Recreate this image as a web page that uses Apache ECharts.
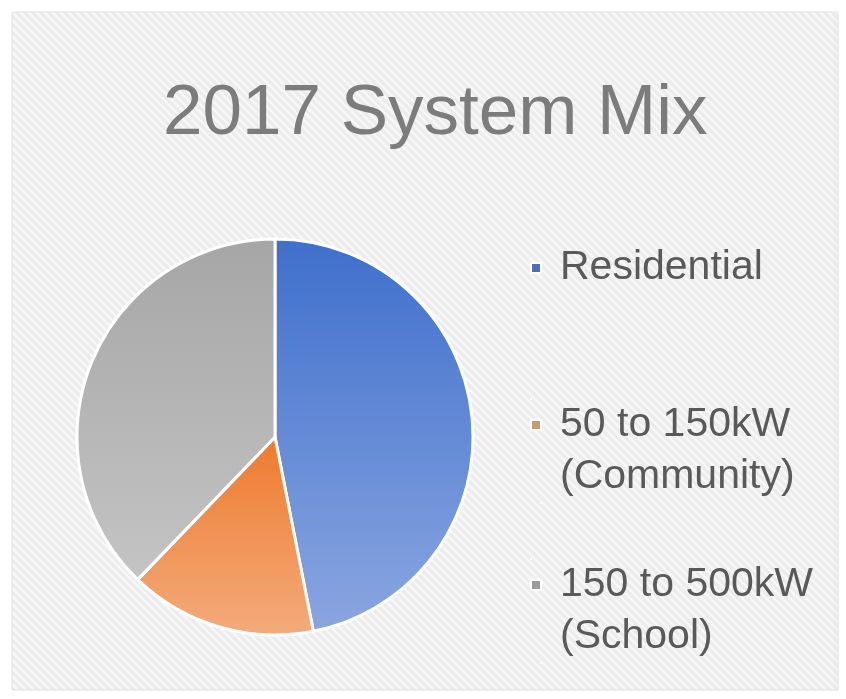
<!DOCTYPE html>
<html>
<head>
<meta charset="utf-8">
<script src="https://cdn.jsdelivr.net/npm/echarts@6/dist/echarts.min.js"></script>
<style>
html,body{margin:0;padding:0;background:#ffffff;}
#chart{width:846px;height:699px;}
</style>
</head>
<body>
<div id="chart"></div>
<script>
var titleText = '2017 System Mix';
var categories = ['Residential', '50 to 150kW\n(Community)', '150 to 500kW\n(School)'];
var values = [46.9, 15.3, 37.8];
var topColors = ['#3f6fcc', '#ee7a2e', '#a6a6a6'];
var bottomColors = ['#8aa6e0', '#f3ab7c', '#c4c4c4'];
var legendIcons = ['#4a6fb8', '#c89a6e', '#9c9c9c'];

// hatch pattern for the panel
var pat = document.createElement('canvas');
pat.width = 8; pat.height = 8;
var pc = pat.getContext('2d');
pc.fillStyle = '#ececec';
pc.fillRect(0, 0, 8, 8);
pc.strokeStyle = '#f8f8f8';
pc.lineWidth = 2;
pc.beginPath();
pc.moveTo(-2, -2); pc.lineTo(10, 10);
pc.moveTo(-6, 2); pc.lineTo(6, 14);
pc.moveTo(2, -6); pc.lineTo(14, 6);
pc.stroke();

var chart = echarts.init(document.getElementById('chart'), null, {renderer: 'canvas'});

var pieData = categories.map(function (c, i) {
  return {
    name: c,
    value: values[i],
    itemStyle: {
      color: {
        type: 'linear', x: 0, y: 0, x2: 0, y2: 1,
        colorStops: [{offset: 0, color: topColors[i]}, {offset: 1, color: bottomColors[i]}]
      }
    }
  };
});

var LH = 52;
var legendTops = [268 - LH / 2, 424 - LH / 2, 584 - LH / 2];
// icon for two-line entries: the square sits beside the first line
var twoLineIcon = 'path://M0,0h0.01v0.01h-0.01Z M0,' + (LH / 2 - 5) + 'h10v10h-10Z M9.99,' + (2 * LH - 0.01) + 'h0.01v0.01h-0.01Z';
var legends = categories.map(function (c, i) {
  var twoLine = c.indexOf('\n') >= 0;
  return {
    orient: 'vertical',
    left: 530,
    top: legendTops[i],
    padding: 0,
    icon: twoLine ? twoLineIcon : 'rect',
    itemWidth: 10,
    itemHeight: twoLine ? 2 * LH : 10,
    selectedMode: false,
    data: [{name: c, itemStyle: {color: legendIcons[i]}}],
    textStyle: {
      fontFamily: 'Liberation Sans',
      fontSize: 41,
      color: '#595959',
      lineHeight: LH,
      padding: [0, 0, 0, 14]
    }
  };
});

chart.setOption({
  animation: false,
  backgroundColor: 'transparent',
  graphic: [{
    type: 'rect',
    shape: {x: 12, y: 12, width: 826, height: 678},
    style: {fill: {image: pat, repeat: 'repeat'}, stroke: '#e2e2e2', lineWidth: 1},
    z: -10
  }],
  title: {
    text: titleText,
    left: 163,
    top: 79,
    padding: 0,
    textStyle: {
      fontFamily: 'Liberation Sans',
      fontSize: 71,
      fontWeight: 'normal',
      color: '#7c7c7c'
    }
  },
  legend: legends,
  series: [{
    type: 'pie',
    center: [275, 437],
    radius: 198,
    startAngle: 90,
    clockwise: true,
    label: {show: false},
    labelLine: {show: false},
    itemStyle: {borderColor: '#ffffff', borderWidth: 3},
    data: pieData
  }]
});
</script>
</body>
</html>
